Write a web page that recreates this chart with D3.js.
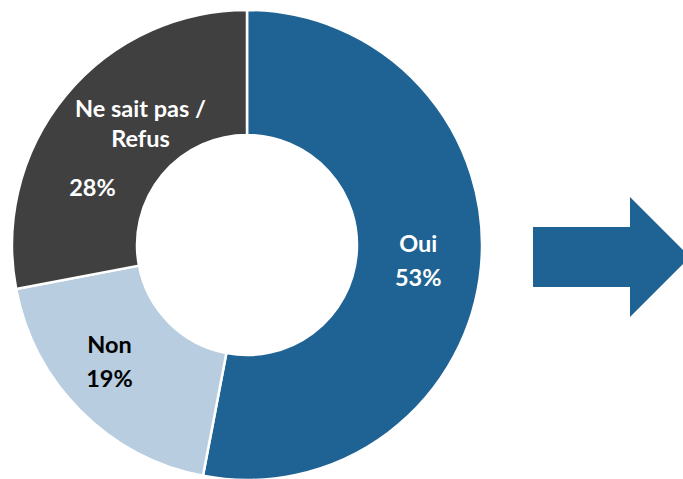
<!DOCTYPE html>
<html>
<head>
<meta charset="utf-8">
<script src="https://cdn.jsdelivr.net/npm/d3@7"></script>
<style>
  body { margin: 0; background: #fff; }
  svg text { font-family: Lato, "Open Sans", sans-serif; font-weight: bold; }
</style>
</head>
<body>
<div id="chart"></div>
<script>
/* DATA */
const categories = ["Oui", "Non", "Ne sait pas / Refus"];
const values = [53, 19, 28];
const labelLines = [["Oui", "53%"], ["Non", "19%"], ["Ne sait pas /", "Refus", "", "28%"]];

const width = 683, height = 479;
const cx = 247, cy = 245, outerR = 235, innerR = 110;

const color = d3.scaleOrdinal()
  .domain(categories)
  .range(["#1F6394", "#B9CDE0", "#404040"]);
const textColor = d3.scaleOrdinal()
  .domain(categories)
  .range(["#ffffff", "#000000", "#ffffff"]);

const svg = d3.select("#chart")
  .append("svg")
  .attr("width", width)
  .attr("height", height);

const pie = d3.pie().sort(null).value(d => d.value);
const arcs = pie(categories.map((c, i) => ({ cat: c, value: values[i], lines: labelLines[i] })));

const arc = d3.arc().innerRadius(innerR).outerRadius(outerR);
const labelArc = d3.arc().innerRadius(172).outerRadius(172);

const g = svg.append("g").attr("transform", `translate(${cx},${cy})`);

g.selectAll("path")
  .data(arcs)
  .join("path")
  .attr("d", arc)
  .attr("fill", d => color(d.data.cat))
  .attr("stroke", "#fff")
  .attr("stroke-width", 2.5);

// per-label nudges (the original text boxes are not exactly centred)
const nudge = [[0, 0], [-16, -5], [22, 0]];

g.selectAll("g.label")
  .data(arcs)
  .join("g")
  .attr("class", "label")
  .each(function(d, i) {
    const [x, y] = labelArc.centroid(d);
    const lines = d.data.lines;
    const lh = 34;
    const t = d3.select(this).append("text")
      .attr("text-anchor", "middle")
      .attr("fill", textColor(d.data.cat))
      .attr("font-size", 23.5);
    if (i === 2) {
      // "Ne sait pas / Refus" block, then the percentage offset left
      t.append("tspan").attr("x", x + 26).attr("y", 117 - cy).text(lines[0]);
      t.append("tspan").attr("x", x + 26).attr("y", 147 - cy).text(lines[1]);
      t.append("tspan").attr("x", x - 22).attr("y", 196 - cy).text(lines[3]);
    } else {
      lines.forEach((ln, k) => {
        t.append("tspan")
          .attr("x", x + nudge[i][0])
          .attr("y", y + nudge[i][1] + (k - (lines.length - 1) / 2) * lh + 8)
          .text(ln);
      });
    }
  });

// block arrow on the right
const arrow = d3.path();
arrow.moveTo(533, 227);
arrow.lineTo(630, 227);
arrow.lineTo(630, 197);
arrow.lineTo(690, 257);
arrow.lineTo(630, 317);
arrow.lineTo(630, 287);
arrow.lineTo(533, 287);
arrow.closePath();
svg.append("path").attr("d", arrow.toString()).attr("fill", "#1F6394");
</script>
</body>
</html>
